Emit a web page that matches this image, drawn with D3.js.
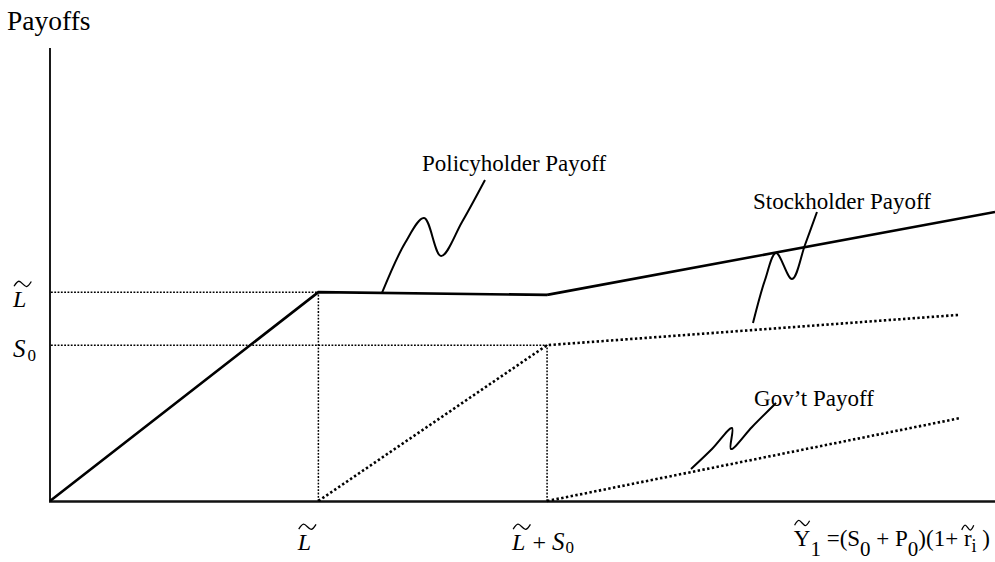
<!DOCTYPE html>
<html><head><meta charset="utf-8">
<script src="https://cdn.jsdelivr.net/npm/d3@7"></script>
<style>body{margin:0;background:#fff}svg{display:block}text{white-space:pre}</style>
</head><body>
<svg id="c" width="995" height="562"></svg>
<script>
// ---- data (conceptual units, x 0..100, y 0..100) ----
const L_X = 28.4;            // L~ on x axis
const LS_X = 52.6;           // L~ + S0 on x axis
const L_Y = 46.1;            // L~ on y axis
const S0_Y = 34.4;           // S0 on y axis

const policyX = [0, L_X, LS_X];
const policyY = [0, L_Y, 45.5];
const stockSolidX = [LS_X, 100];
const stockSolidY = [45.5, 63.8];
const stockDotX = [L_X, LS_X, 96.3];
const stockDotY = [0, S0_Y, 41.1];
const govX = [LS_X, 96.3];
const govY = [0, 18.3];

const guideH = [{x0: 0, x1: L_X, y: L_Y}, {x0: 0, x1: LS_X, y: S0_Y}];
const guideV = [{x: L_X, y0: 0, y1: L_Y}, {x: LS_X, y0: 0, y1: S0_Y}];

const pointerPolicy = [[35.13,45.92],[37.57,56.95],[39.58,62.47],[41.38,54.08],[43.60,61.59],[46.03,70.86]];
const pointerStock  = [[74.39,39.29],[75.66,48.79],[76.83,54.75],[78.52,49.01],[79.89,56.51],[81.16,63.80]];
const pointerGov    = [[67.83,7.06],[70.05,11.48],[72.17,16.11],[72.06,11.48],[74.29,16.34],[76.83,21.63]];

const annoText = ["Policyholder Payoff", "Stockholder Payoff", "Gov\u2019t Payoff"];
const annoX = [39.37, 74.39, 74.5];
const annoY = [72.85, 64.46, 20.97];

const yAxisTitle = "Payoffs";

// ---- scales ----
const svg = d3.select("#c");
const x = d3.scaleLinear().domain([0, 100]).range([50, 995]);
const y = d3.scaleLinear().domain([0, 100]).range([501, 48]);
const FONT = "'Liberation Serif', 'Times New Roman', serif";

// axes
svg.append("line").attr("x1", x(0)).attr("x2", x(0)).attr("y1", y(100)).attr("y2", y(0))
  .attr("stroke", "#000").attr("stroke-width", 1.8);
svg.append("line").attr("x1", x(0) - 1).attr("x2", x(100)).attr("y1", y(0) + 0.5).attr("y2", y(0) + 0.5)
  .attr("stroke", "#111").attr("stroke-width", 2.4);

// guides (thin dotted)
const thin = {w: 1.5, d: "1.8 1.5"};
guideH.forEach(g => svg.append("line").attr("x1", x(g.x0) + 1).attr("x2", x(g.x1)).attr("y1", y(g.y)).attr("y2", y(g.y))
  .attr("stroke", "#000").attr("stroke-width", thin.w).attr("stroke-dasharray", thin.d));
guideV.forEach(g => svg.append("line").attr("x1", x(g.x)).attr("x2", x(g.x)).attr("y1", y(g.y0)).attr("y2", y(g.y1))
  .attr("stroke", "#000").attr("stroke-width", thin.w).attr("stroke-dasharray", thin.d));

const line = d3.line().x(d => x(d[0])).y(d => y(d[1]));
const zip = (a, b) => a.map((v, i) => [v, b[i]]);

// main series
svg.append("path").attr("d", line(zip(policyX, policyY))).attr("fill", "none")
  .attr("stroke", "#000").attr("stroke-width", 2.6).attr("stroke-linejoin", "miter");
svg.append("path").attr("d", line(zip(stockSolidX, stockSolidY))).attr("fill", "none")
  .attr("stroke", "#000").attr("stroke-width", 2.6);
svg.append("path").attr("d", line(zip(stockDotX, stockDotY))).attr("fill", "none")
  .attr("stroke", "#000").attr("stroke-width", 2.6).attr("stroke-dasharray", "2.4 2.4");
svg.append("path").attr("d", line(zip(govX, govY))).attr("fill", "none")
  .attr("stroke", "#000").attr("stroke-width", 2.6).attr("stroke-dasharray", "2.4 2.4");

// pointers
const curve = d3.line().x(d => x(d[0])).y(d => y(d[1])).curve(d3.curveCatmullRom.alpha(0.5));
[pointerPolicy, pointerStock, pointerGov].forEach(p =>
  svg.append("path").attr("d", curve(p)).attr("fill", "none").attr("stroke", "#000").attr("stroke-width", 2));

// annotation labels
annoText.forEach((t, i) => svg.append("text").attr("x", x(annoX[i])).attr("y", y(annoY[i]))
  .attr("font-family", FONT).attr("font-size", 23).text(t));

// y-axis title
svg.append("text").attr("x", 7).attr("y", 30).attr("font-family", FONT).attr("font-size", 27.5).text(yAxisTitle);

// wide tilde accent drawn as a path
const tildeLine = d3.line().curve(d3.curveCatmullRom.alpha(0.5));
function tilde(g, cx, cy, w, h) {
  const pts = [[-w/2, h*0.45], [-w*0.22, -h/2], [w*0.22, h/2], [w/2, -h*0.45]].map(p => [cx + p[0], cy + p[1]]);
  g.append("path").attr("d", tildeLine(pts)).attr("fill", "none").attr("stroke", "#000").attr("stroke-width", 1.3);
}

// helper to lay out rich label pieces
function rich(x0, baseline, pieces, anchor) {
  const g = svg.append("g");
  let cx = 0;
  pieces.forEach(p => {
    const t = g.append("text").attr("font-family", FONT)
      .attr("font-size", p.size).attr("font-style", p.italic ? "italic" : "normal")
      .attr("x", cx).attr("y", p.dy || 0).text(p.t);
    const w = t.node().getComputedTextLength();
    if (p.tilde) {
      const tw = p.tw || p.size * 0.72;
      tilde(g, cx + w / 2 + (p.italic ? 3 : 0), (p.dy || 0) - p.size * (p.th || 0.97), tw, p.size * 0.22);
    }
    cx += w + (p.gap || 0);
  });
  let shift = x0;
  if (anchor === "middle") shift = x0 - cx / 2;
  if (anchor === "end") shift = x0 - cx;
  g.attr("transform", `translate(${shift},${baseline})`);
  return g;
}

// y-axis tick labels
rich(13, y(L_Y) + 15, [{t: "L", size: 24, italic: true, tilde: true}], "start");
rich(13, y(S0_Y) + 12, [{t: "S", size: 25, italic: true, gap: 2}, {t: "0", size: 17, dy: 4}], "start");

// x-axis tick labels
rich(x(L_X) - 14, 550, [{t: "L", size: 24, italic: true, tilde: true}], "middle");
rich(x(LS_X) - 4, 550, [{t: "L", size: 24, italic: true, tilde: true, gap: 1}, {t: " + ", size: 24},
  {t: "S", size: 25, italic: true, gap: 1}, {t: "0", size: 17, dy: 3}], "middle");

// x-axis title formula
rich(x(100) - 5, 546, [
  {t: "Y", size: 23, tilde: true, th: 1.0, tw: 15}, {t: "1", size: 21, dy: 10},
  {t: " =(S", size: 23}, {t: "0", size: 21, dy: 10},
  {t: " + P", size: 23}, {t: "0", size: 21, dy: 10},
  {t: ")(1+ ", size: 23}, {t: "r", size: 23, tilde: true, th: 0.8, tw: 12}, {t: "i", size: 18, dy: 6},
  {t: " )", size: 23}], "end");
</script>
</body></html>
